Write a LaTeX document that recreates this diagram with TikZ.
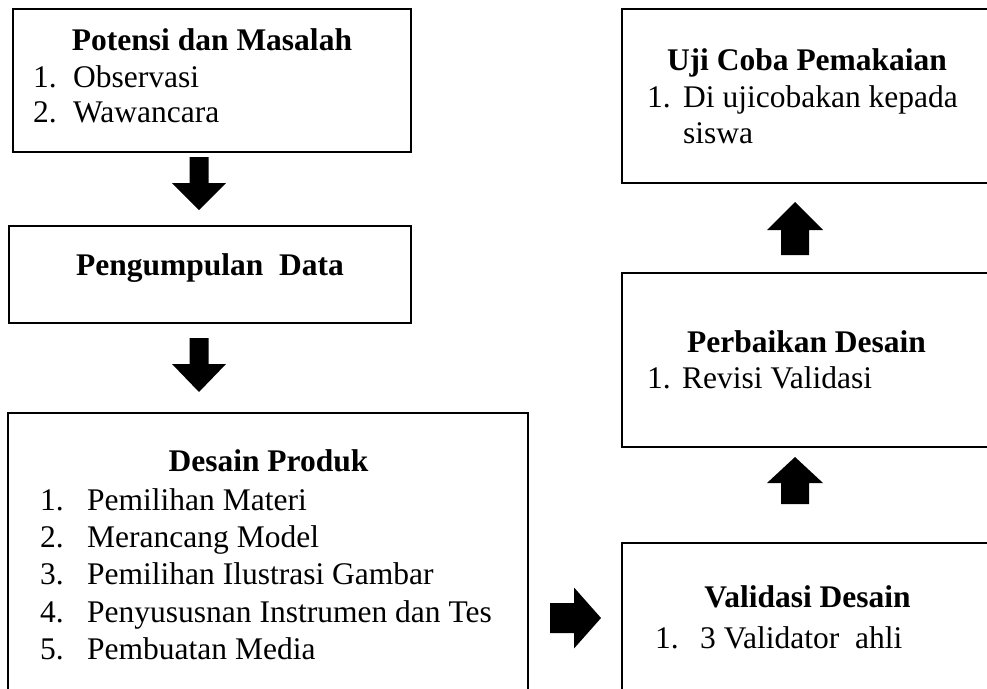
\documentclass[tikz,border=0pt]{standalone}
\usepackage{fontspec}
\setmainfont{Liberation Serif}
\newcommand\blockarrow[6]{% #1 tail coord, #2 rotation, #3 shaft length, #4 head length, #5 shaft half width, #6 head half width
  \fill[shift={(#1)},rotate=#2] (0,-#5) -- (#3,-#5) -- (#3,-#6) -- ({#3+#4},0) -- (#3,#6) -- (#3,#5) -- (0,#5) -- cycle;}
\begin{document}
\begin{tikzpicture}[x=1pt,y=-1pt,
  box/.style={draw, line width=2.2pt, rectangle, inner sep=0pt, outer sep=0pt},
  ttl/.style={font=\fontsize{31.5}{36.5}\selectfont\bfseries, anchor=base, inner sep=0pt},
  itm/.style={font=\fontsize{31.5}{36.5}\selectfont, anchor=base west, inner sep=0pt}]
\useasboundingbox (0,0) rectangle (987,688);
\clip (0,0) rectangle (987,688);
% boxes
\node[box, minimum width=398pt, minimum height=143pt] (b1) at (212,80.5) {};
\node[box, minimum width=402pt, minimum height=97pt] (b2) at (210,274.5) {};
\node[box, minimum width=520pt, minimum height=287pt] (b3) at (268,556.5) {};
\node[box, minimum width=370pt, minimum height=157pt] (b4) at (807,621.5) {};
\node[box, minimum width=370pt, minimum height=174pt] (b5) at (807,360) {};
\node[box, minimum width=370pt, minimum height=174pt] (b6) at (807,96) {};
% box 1
\node[ttl] (t1) at (212,50) {Potensi dan Masalah};
\node[itm] (n11) at (33,87) {1.};
\node[itm] (i11) at (73,87) {Observasi};
\node[itm] (n12) at (33,122) {2.};
\node[itm] (i12) at (73,122) {Wawancara};
% box 2
\node[ttl] (t2) at (210,275) {Pengumpulan\ \ Data};
% box 3
\node[ttl] (t3) at (268.5,471) {Desain Produk};
\node[itm] (n31) at (40,510) {1.};
\node[itm] (i31) at (87,510) {Pemilihan Materi};
\node[itm] (n32) at (40,547) {2.};
\node[itm] (i32) at (87,547) {Merancang Model};
\node[itm] (n33) at (40,584) {3.};
\node[itm] (i33) at (87,584) {Pemilihan Ilustrasi Gambar};
\node[itm] (n34) at (40,622) {4.};
\node[itm] (i34) at (87,622) {Penyususnan Instrumen dan Tes};
\node[itm] (n35) at (40,659) {5.};
\node[itm] (i35) at (87,659) {Pembuatan Media};
% box 4
\node[ttl] (t4) at (807.5,607) {Validasi Desain};
\node[itm] (n41) at (655,648) {1.};
\node[itm] (i41) at (700,648) {3 Validator\ \ ahli};
% box 5
\node[ttl] (t5) at (806.5,352) {Perbaikan Desain};
\node[itm] (n51) at (647,388) {1.};
\node[itm] (i51) at (682,388) {Revisi Validasi};
% box 6
\node[ttl] (t6) at (807,70) {Uji Coba Pemakaian};
\node[itm] (n61) at (647,107) {1.};
\node[itm] (i61) at (683,107) {Di ujicobakan kepada};
\node[itm] (i62) at (683,143) {siswa};
% block arrows
\coordinate (a1) at (199,157);
\coordinate (a2) at (199,338);
\coordinate (a3) at (550,618);
\coordinate (a4) at (795,504);
\coordinate (a5) at (795,255);
\blockarrow{a1}{-90}{26}{27}{9.5}{27}
\blockarrow{a2}{-90}{26}{28}{9.5}{27}
\blockarrow{a3}{0}{24}{27}{15}{30.5}
\blockarrow{a4}{90}{21}{26}{14}{28}
\blockarrow{a5}{90}{25}{28}{14}{28}
\end{tikzpicture}
\end{document}
